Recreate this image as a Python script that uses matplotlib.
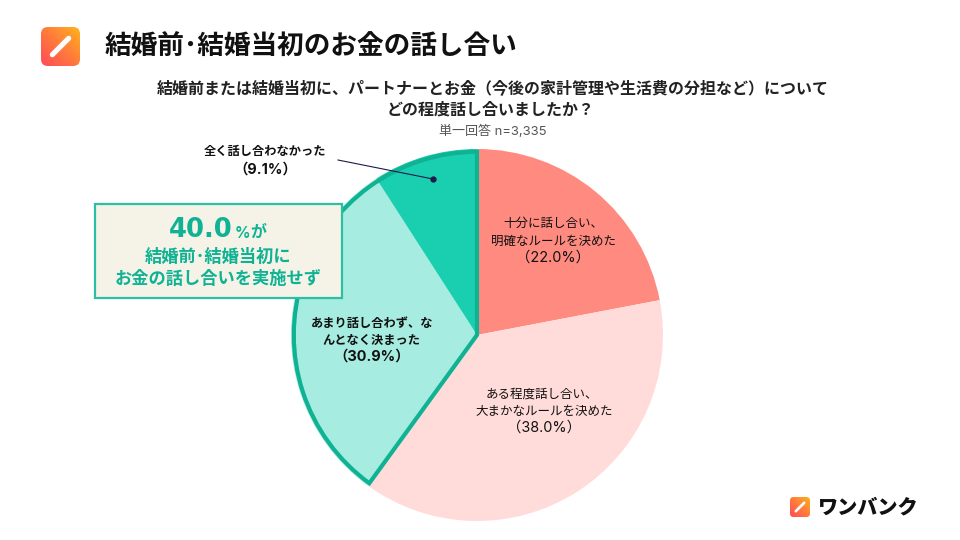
import numpy as np
import matplotlib
matplotlib.use('Agg')
import matplotlib.pyplot as plt
from matplotlib.colors import LinearSegmentedColormap
from matplotlib.patches import FancyBboxPatch, Rectangle

plt.rcParams['font.family'] = ['Noto Sans CJK JP', 'DejaVu Sans']
LATIN = ['Inter', 'Noto Sans CJK JP']

title = '結婚前･結婚当初のお金の話し合い'
question = ['結婚前または結婚当初に、パートナーとお金（今後の家計管理や生活費の分担など）について',
            'どの程度話し合いましたか？']
note = '単一回答 n=3,335'
values = [22.0, 38.0, 30.9, 9.1]
colors = ['#FF8A80', '#FFDCD9', '#A6ECE0', '#1ACEB0']
group_values = [60.0, 40.0]
GREEN = '#10B294'

fig = plt.figure(figsize=(9.6, 5.4), dpi=100, facecolor='white')

# pixel overlay, y goes down like the picture
bg = fig.add_axes([0, 0, 1, 1], zorder=3)
bg.axis('off')
bg.patch.set_alpha(0)

# pie axes, center 477,335 radius 186
R = 186
cx, cy = 477, 335
ax = fig.add_axes([(cx - R) / 960, 1 - (cy + R) / 540, 2 * R / 960, 2 * R / 540], zorder=1)
ax.pie(values, colors=colors, startangle=90, counterclock=False, radius=1,
       wedgeprops={'linewidth': 0})

# outline of the 40% group
wedges, _ = ax.pie(group_values, startangle=90, counterclock=False, radius=0.985,
                   colors=['none', 'none'], wedgeprops={'linewidth': 0})
wedges[1].set_edgecolor(GREEN)
wedges[1].set_linewidth(3.0)
wedges[1].set_joinstyle('miter')
wedges[1].set_clip_on(False)
ax.set_xlim(-1, 1)
ax.set_ylim(-1, 1)


def logo(x, y, s, rad):
    cmap = LinearSegmentedColormap.from_list('logo', ['#FF4A58', '#FF7A3C', '#FFB21E'])
    g = np.linspace(0, 1, 64)
    grad = (g[None, :] + g[::-1, None]) / 2
    im = bg.imshow(grad, extent=[x, x + s, y + s, y], cmap=cmap, aspect='auto', zorder=5)
    box = FancyBboxPatch((x + rad, y + rad), s - 2 * rad, s - 2 * rad,
                         boxstyle='round,pad=%f,rounding_size=%f' % (rad, rad),
                         transform=bg.transData, fc='none', ec='none')
    bg.add_patch(box)
    im.set_clip_path(box)
    bg.plot([x + s * 0.29, x + s * 0.71], [y + s * 0.71, y + s * 0.29], color='white',
            lw=s * 0.095, solid_capstyle='round', zorder=6)


logo(41, 27, 39, 7)
logo(790, 497, 20, 3.5)
bg.set_xlim(0, 960)
bg.set_ylim(540, 0)

bg.text(105, 47, title, fontsize=19.2, fontweight='bold', color='#111111', va='center', ha='left')

bg.text(492.5, 88, question[0], fontsize=11.5, fontweight='bold', color='#222222', ha='center', va='center')
bg.text(491, 110, question[1], fontsize=11.5, fontweight='bold', color='#222222', ha='center', va='center')
bg.text(493, 131, note, fontsize=9.4, color='#555555', ha='center', va='center', family=LATIN)

# slice labels
bg.text(553, 223, '十分に話し合い、', fontsize=9, color='#111111', ha='center', va='center')
bg.text(553, 241, '明確なルールを決めた', fontsize=9, color='#111111', ha='center', va='center')
bg.text(553, 258, '（22.0%）', fontsize=10.4, color='#111111', ha='center', va='center', family=LATIN)
bg.text(542, 394, 'ある程度話し合い、', fontsize=9, color='#111111', ha='center', va='center')
bg.text(544, 411, '大まかなルールを決めた', fontsize=9, color='#111111', ha='center', va='center')
bg.text(544, 428, '（38.0%）', fontsize=10.4, color='#111111', ha='center', va='center', family=LATIN)
bg.text(372, 323, 'あまり話し合わず、な', fontsize=8.8, fontweight='bold', color='#111111', ha='center', va='center')
bg.text(371, 340, 'んとなく決まった', fontsize=8.8, fontweight='bold', color='#111111', ha='center', va='center')
bg.text(372, 357, '（30.9%）', fontsize=10.4, fontweight='bold', color='#111111', ha='center', va='center', family=LATIN)
bg.text(265, 152, '全く話し合わなかった', fontsize=8.8, fontweight='bold', color='#111111', ha='center', va='center')
bg.text(265, 170, '（9.1%）', fontsize=10.4, fontweight='bold', color='#111111', ha='center', va='center', family=LATIN)

# leader line
bg.plot([338, 433], [160, 179], color='#1F1A4D', lw=0.8, zorder=4)
bg.plot([433], [179], 'o', color='#1F1A4D', ms=3.5, zorder=4)

# callout box
bg.add_patch(Rectangle((94.5, 204), 247, 93.5, fc='#F5F3E7', ec='#2DBFA4', lw=1.6, zorder=4))
bg.text(201, 230, '40.0', fontsize=18.6, fontweight='bold', color=GREEN, ha='center', va='center', zorder=5,
        family='DejaVu Sans')
bg.text(242, 233, '%', fontsize=11, fontweight='bold', color=GREEN, ha='center', va='center', zorder=5,
        family=LATIN)
bg.text(258, 232, 'が', fontsize=11.5, fontweight='bold', color=GREEN, ha='center', va='center', zorder=5)
bg.text(218, 257, '結婚前･結婚当初に', fontsize=12.4, fontweight='bold', color=GREEN, ha='center', va='center', zorder=5)
bg.text(218, 279, 'お金の話し合いを実施せず', fontsize=12.4, fontweight='bold', color=GREEN, ha='center', va='center', zorder=5)

# brand
bg.text(817, 507, 'ワンバンク', fontsize=14.5, fontweight='black', color='#111111', ha='left', va='center')

fig.savefig('out.png', dpi=100)
